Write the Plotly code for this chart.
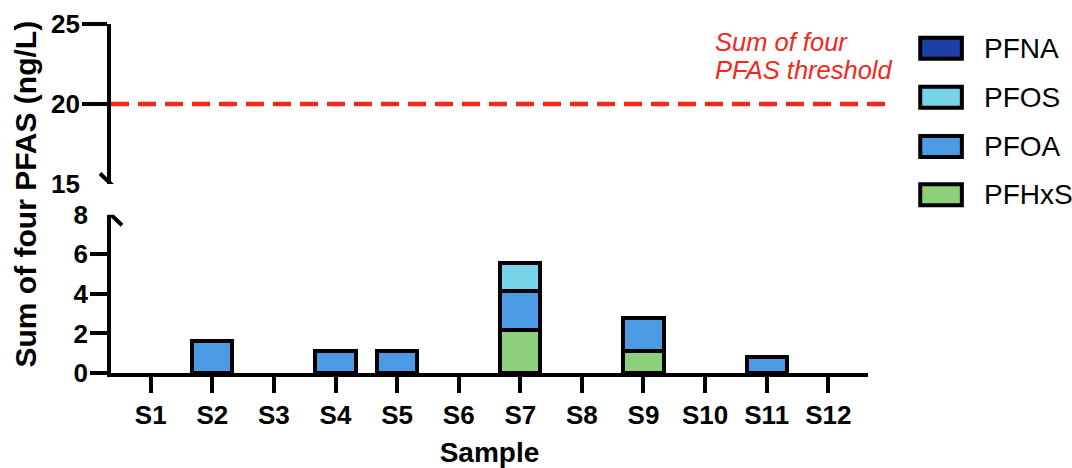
import plotly.graph_objects as go

# ---------------- data ----------------
samples = ["S1", "S2", "S3", "S4", "S5", "S6", "S7", "S8", "S9", "S10", "S11", "S12"]
pfhxs = [0, 0, 0, 0, 0, 0, 2.15, 0, 1.1, 0, 0, 0]
pfoa = [0, 1.6, 0, 1.1, 1.1, 0, 1.97, 0, 1.7, 0, 0.8, 0]
pfos = [0, 0, 0, 0, 0, 0, 1.43, 0, 0, 0, 0, 0]
pfna = [0, 0, 0, 0, 0, 0, 0, 0, 0, 0, 0, 0]
threshold = 20
lower_ticks = [0, 2, 4, 6, 8]
upper_ticks = [15, 20, 25]
legend_order = ["PFNA", "PFOS", "PFOA", "PFHxS"]

colors = {"PFHxS": "#8ecf7b", "PFOA": "#4a9be3", "PFOS": "#76d3e8", "PFNA": "#1c3fa6"}
series = [("PFHxS", pfhxs), ("PFOA", pfoa), ("PFOS", pfos), ("PFNA", pfna)]

FONT = "Arial, Liberation Sans, sans-serif"
RED = "#f0291c"

fig = go.Figure()
for name, vals in series:
    fig.add_trace(go.Bar(
        x=samples,
        y=[v if v else None for v in vals],
        name=name,
        marker=dict(color=colors[name], line=dict(color="black", width=4)),
        width=0.65,
        xaxis="x", yaxis="y",
        showlegend=False,
    ))

lo_dom = [0, 0.4536]
hi_dom = [0.5415, 1]
tickfont = dict(family=FONT, size=26, color="black", weight="bold")

fig.update_layout(
    width=1072, height=468,
    margin=dict(l=111, r=204, t=24, b=95),
    paper_bgcolor="white", plot_bgcolor="white",
    barmode="stack",
    bargap=0.35,
    xaxis=dict(
        type="category", range=[-0.645, 11.645], anchor="y",
        showline=True, linewidth=4, linecolor="black",
        ticks="outside", ticklen=16, tickwidth=4, tickcolor="black",
        tickfont=tickfont, showgrid=False, zeroline=False, automargin=False,
        title=dict(text="Sample", font=dict(family=FONT, size=28, color="black", weight="bold"), standoff=16),
    ),
    yaxis=dict(
        domain=lo_dom, range=[0, 8], anchor="x", automargin=False,
        showline=True, linewidth=4, linecolor="black",
        tickvals=lower_ticks[:-1], ticks="outside", ticklen=17, tickwidth=4, tickcolor="black",
        showticklabels=False, showgrid=False, zeroline=False,
    ),
    yaxis3=dict(
        overlaying="y", range=[0, 8], anchor="x", side="left", automargin=False,
        showline=False, tickvals=lower_ticks, ticks="", tickfont=tickfont,
        ticklabelstandoff=22, showgrid=False, zeroline=False,
    ),
    yaxis2=dict(
        domain=hi_dom, range=[15, 25], anchor="x", automargin=False,
        showline=True, linewidth=4, linecolor="black",
        tickvals=upper_ticks[1:], ticks="outside", ticklen=25, tickwidth=4, tickcolor="black",
        showticklabels=False, showgrid=False, zeroline=False,
    ),
    yaxis4=dict(
        overlaying="y2", range=[15, 25], anchor="x", side="left", automargin=False,
        showline=False, tickvals=upper_ticks, ticks="", tickfont=tickfont,
        ticklabelstandoff=30, showgrid=False, zeroline=False,
    ),
)

# dummy traces so overlay axes render
fig.add_trace(go.Scatter(x=[samples[0]], y=[None], yaxis="y3", showlegend=False, hoverinfo="skip"))
fig.add_trace(go.Scatter(x=[samples[0]], y=[None], yaxis="y4", showlegend=False, hoverinfo="skip"))
fig.add_trace(go.Scatter(x=[samples[0]], y=[None], yaxis="y2", showlegend=False, hoverinfo="skip"))

shapes = []
# threshold line
shapes.append(dict(type="line", xref="paper", x0=0, x1=1.033, yref="y2", y0=threshold, y1=threshold,
                   line=dict(color=RED, width=4.5, dash="18px,9px")))
# axis break slashes
for yref, yval in [("y2", upper_ticks[0]), ("y", lower_ticks[-1])]:
    shapes.append(dict(type="line", xref="paper", xsizemode="pixel", xanchor=0, x0=-11, x1=11,
                       yref=yref, ysizemode="pixel", yanchor=yval, y0=10.5, y1=-10.5,
                       line=dict(color="black", width=4)))

annotations = []
# custom legend
legend_y = [0.9304, 0.7902, 0.6487, 0.5105]
for name, ly in zip(legend_order, legend_y):
    shapes.append(dict(type="rect", xref="paper", x0=1.0690, x1=1.1240,
                       yref="paper", ysizemode="pixel", yanchor=ly, y0=-10.5, y1=10.5,
                       fillcolor=colors[name], line=dict(color="black", width=4)))
    annotations.append(dict(text=name, xref="paper", yref="paper", x=1.1506, y=ly,
                            xanchor="left", yanchor="middle", showarrow=False,
                            font=dict(family=FONT, size=28, color="black")))

# threshold label
annotations.append(dict(text="<i>Sum of four</i>", xref="paper", yref="y2", x=0.7953, y=23.89,
                        xanchor="left", yanchor="middle", showarrow=False,
                        font=dict(family=FONT, size=25.5, color=RED)))
annotations.append(dict(text="<i>PFAS threshold</i>", xref="paper", yref="y2", x=0.7953, y=22.125,
                        xanchor="left", yanchor="middle", showarrow=False,
                        font=dict(family=FONT, size=25.5, color=RED)))
# y title
annotations.append(dict(text="Sum of four PFAS (ng/L)", xref="paper", yref="paper", x=0, y=0.5,
                        xshift=-86, yshift=4, xanchor="center", yanchor="middle", textangle=-90,
                        showarrow=False, font=dict(family=FONT, size=30, color="black", weight="bold")))

fig.update_layout(shapes=shapes, annotations=annotations)
fig.write_html("out.html", config={"displayModeBar": False},
               post_script="document.body.style.margin='0';document.body.style.overflow='hidden';")
